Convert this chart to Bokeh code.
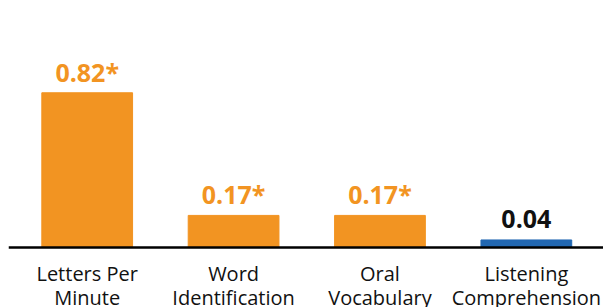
from bokeh.plotting import figure
from bokeh.models import ColumnDataSource, Range1d, Span
from bokeh.core.properties import value
from bokeh.embed import file_html
from bokeh.resources import INLINE

categories = ["Letters Per\nMinute", "Word\nIdentification", "Oral\nVocabulary", "Listening\nComprehension"]
effects = [0.82, 0.17, 0.17, 0.04]
value_labels = ["0.82*", "0.17*", "0.17*", "0.04"]
bar_colors = ["#F29422", "#F29422", "#F29422", "#2268B2"]
label_colors = ["#F29422", "#F29422", "#F29422", "#111111"]

xs = list(range(len(categories)))
zeros = [0] * len(categories)
src = ColumnDataSource(dict(x=xs, top=effects, lab=value_labels, cat=categories,
                            bc=bar_colors, lc=label_colors, zero=zeros))

p = figure(width=603, height=307, output_backend="svg", toolbar_location=None,
           x_range=Range1d(-0.5376, 3.527), y_range=Range1d(-0.318, 1.309),
           x_axis_location=None, y_axis_location=None,
           min_border=0, min_border_left=8, outline_line_color=None)
p.grid.visible = False
p.background_fill_color = "white"
p.border_fill_color = "white"

p.vbar(x="x", top="top", bottom=0, width=0.62, color="bc", source=src)

p.add_layout(Span(location=0, dimension="width", line_color="black", line_width=2.5))

p.text(x="x", y="top", text="lab", source=src, text_color="lc",
       text_font=value("Open Sans"), text_font_style="bold", text_font_size="25px",
       text_align="center", text_baseline="alphabetic", y_offset=-21)

p.text(x="x", y="zero", text="cat", source=src, text_color="#111111",
       text_font=value("Open Sans"), text_font_size="20px", text_line_height=0.86,
       text_align="center", text_baseline="top", y_offset=13)

open("out.html", "w").write(file_html(p, INLINE))
